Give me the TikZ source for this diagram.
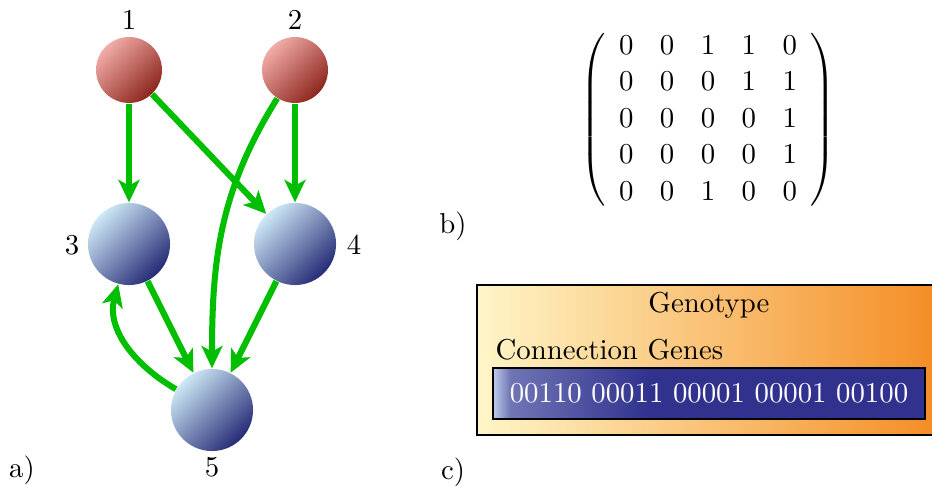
\documentclass[tikz,border=0pt]{standalone}
\usetikzlibrary{arrows.meta}
\definecolor{BlueLight}{RGB}{205,232,246}
\definecolor{BlueMid}{RGB}{118,125,175}
\definecolor{BlueDark}{RGB}{38,43,118}
\definecolor{RedLight}{RGB}{242,172,168}
\definecolor{RedMid}{RGB}{198,108,98}
\definecolor{RedDark}{RGB}{140,38,28}
\definecolor{ArrowGreen}{RGB}{0,190,0}
\definecolor{GenoLight}{RGB}{255,246,200}
\definecolor{GenoDark}{RGB}{244,140,35}
\definecolor{GeneLight}{RGB}{190,205,235}
\definecolor{GeneMid}{RGB}{112,117,180}
\definecolor{GeneDark}{RGB}{48,50,142}
\pgfdeclarehorizontalshading{geneshade}{100bp}{color(0bp)=(GeneLight); color(25bp)=(GeneLight); color(27bp)=(GeneMid); color(43bp)=(GeneDark); color(100bp)=(GeneDark)}
\begin{document}
\begin{tikzpicture}[x=0.3472pt,y=-0.3472pt,
  bluenode/.style={circle, minimum size=28.5pt, inner sep=0pt, top color=BlueLight, middle color=BlueMid, bottom color=BlueDark, shading angle=45},
  rednode/.style={circle, minimum size=22.9pt, inner sep=0pt, top color=RedLight, middle color=RedMid, bottom color=RedDark, shading angle=45},
  lbl/.style={inner sep=0pt},
  edge/.style={draw=ArrowGreen, line width=2.1pt, -{Stealth[length=7.8pt,width=7.3pt,inset=2pt]}},
  genobox/.style={draw=black, line width=1pt, left color=GenoLight, right color=GenoDark, minimum width=161.1pt, minimum height=52.1pt, inner sep=0pt},
  genebox/.style={draw=black, line width=1pt, shading=geneshade, minimum width=150pt, minimum height=17.7pt, inner sep=0pt, text=white}
]
\useasboundingbox (0,0) rectangle (932,492);
% graph
\node[rednode] (n1) at (129,70) {};
\node[rednode] (n2) at (295,70) {};
\node[bluenode] (n3) at (129,244) {};
\node[bluenode] (n4) at (295,244) {};
\node[bluenode] (n5) at (212,410) {};
\node[lbl] (l1) at (129,20) {1};
\node[lbl] (l2) at (295,20) {2};
\node[lbl] (l3) at (72,245) {3};
\node[lbl] (l4) at (354,245) {4};
\node[lbl] (l5) at (212,467) {5};
\draw[edge] (n1) -- (n3);
\draw[edge] (n1) -- (n4);
\draw[edge] (n2) -- (n4);
\draw[edge] (n2) to[out=-122,in=90] (n5);
\draw[edge] (n3) -- (n5);
\draw[edge] (n4) -- (n5);
\draw[edge] (n5) to[out=150,in=-105] (n3);
% panel labels
\node[lbl] (pa) at (22,470) {a)};
\node[lbl] (pb) at (453,226) {b)};
\node[lbl] (pc) at (453,472) {c)};
% matrix
\node[lbl] (mat) at (708,120) {\renewcommand{\arraystretch}{1.06}\setlength{\arraycolsep}{4.6pt}$\left(\begin{array}{ccccc}
0&0&1&1&0\\ 0&0&0&1&1\\ 0&0&0&0&1\\ 0&0&0&0&1\\ 0&0&1&0&0
\end{array}\right)$};
% genotype
\node[genobox] (geno) at (709,360) {};
\node[lbl] (genot) at (709,305) {Genotype};
\node[lbl, anchor=west] (cg) at (495,350) {Connection Genes};
\node[genebox] (genes) at (709,393.5) {00110 00011 00001 00001 00100};
\end{tikzpicture}
\end{document}
